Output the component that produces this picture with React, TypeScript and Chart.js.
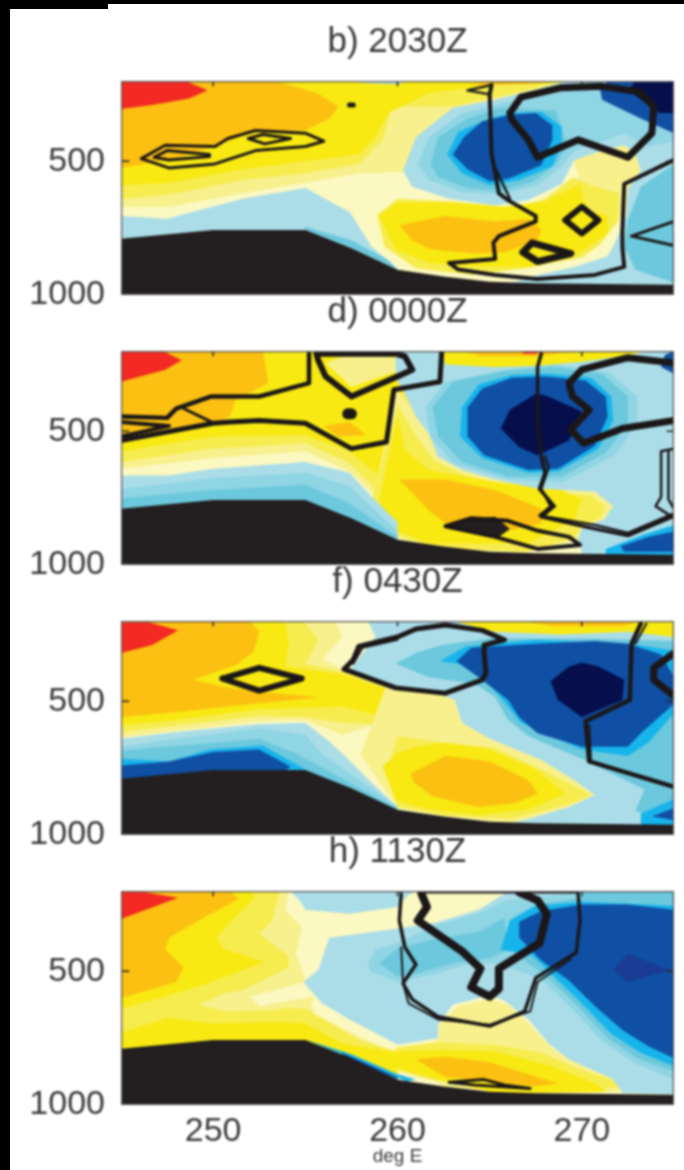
import React, { useEffect, useRef } from "react";
import { Chart, registerables } from "chart.js";
Chart.register(...registerables);

type P = [number, number];
const RED = "#f32a23", ORG = "#fbc011", YEL = "#f8e912", Y2 = "#f6ec4e", Y3 = "#f8f08c", Y4 = "#fbf8c2";
const LB = "#abdde8", LB2 = "#8fd5e3", LB3 = "#6cc8dc", CYN = "#17b4ec", BLU = "#0f50a4", NVY = "#060f4c", KK = "#231f20", IND = "#1a3c94";

const xTicks = [250, 260, 270];
const yTicks = [500, 1000];
const titles = ["b) 2030Z", "d) 0000Z", "f) 0430Z", "h) 1130Z"];

const full: P[] = [[245, 200], [275, 200], [275, 1000], [245, 1000]];
const frame: P[] = [[245, 200], [275, 200], [275, 1000], [245, 1000], [245, 200]];
const terrain: P[] = [[245, 790], [250, 757], [255, 757], [257.5, 825], [260, 906], [262.5, 931], [265, 950], [267.5, 956], [275, 962], [275, 1000], [245, 1000]];
const tickMarks: P[][] = [[[250, 200], [250, 220]], [[260, 200], [260, 220]], [[270, 200], [270, 220]], [[245, 500], [245.45, 500]], [[275, 500], [274.6, 500]]];

// panel b
const bY3: P[] = [[245, 200], [270, 200], [270, 500], [260, 540], [257.9, 545], [255, 580], [251.6, 620], [247.6, 670], [245, 670]];
const bY2: P[] = [[245, 200], [269.3, 200], [263, 295], [259.7, 295], [259.2, 420], [257.9, 510], [255, 545], [251.6, 570], [247.6, 625], [245, 640]];
const bY: P[] = [[245, 200], [267.1, 200], [265.1, 215], [261.7, 245], [259.5, 320], [258.8, 410], [257.9, 475], [255, 500], [251.6, 530], [247.6, 580], [245, 590]];
const bOrg: P[] = [[245, 200], [253.4, 200], [255.6, 245], [256.8, 295], [256.3, 340], [255, 385], [252.1, 390], [250.1, 445], [248.9, 470], [248, 490], [245, 525]];
const bOrgTop: P[] = [[263.8, 215], [265.3, 200], [268.9, 200], [267.5, 210], [265.3, 215]];
const bRed: P[] = [[245, 200], [248.5, 200], [249.7, 235], [248.7, 265], [246.7, 290], [245, 305]];
const bSliver: P[] = [[257, 200], [260.5, 200], [260, 212], [258.5, 208]];
const bLow: P[] = [[245, 705], [247.5, 715], [251.6, 640], [255, 600], [257.4, 690], [258.6, 820], [260, 900], [260, 1000], [245, 1000]];
const bLowEdge: P[] = [[255, 745], [257.5, 795], [259.5, 870], [260, 905], [257.5, 825], [255, 757]];
const bPatch: P[] = [[269.6, 495], [271.1, 460], [272.3, 440], [272.9, 470], [273.2, 535], [272.5, 605], [272.4, 705], [271.6, 700], [270.2, 680], [269.9, 585]];
const bLowY2: P[] = [[258.9, 700], [260, 640], [263, 650], [266, 680], [268, 640], [269.5, 560], [270.5, 590], [272, 620], [272, 720], [271, 810], [270, 860], [267, 900], [264, 925], [261, 900], [259.3, 820]];
const bLowY: P[] = [[259, 705], [260, 655], [263.5, 655], [265.8, 670], [268, 650], [269.9, 585], [270.2, 680], [271.4, 705], [271.4, 770], [269.6, 855], [267.1, 895], [264.4, 895], [261.7, 880], [259.9, 830]];
const bLowOrg: P[] = [[260.1, 740], [262.6, 705], [265.3, 725], [267.1, 715], [267.8, 755], [267.6, 795], [265.8, 840], [264.2, 845], [261.8, 830], [260.8, 795]];
const bRight: P[] = [[269.3, 200], [265.3, 270], [263, 300], [261, 410], [260.3, 535], [260.8, 595], [262.8, 640], [265.3, 665], [267.1, 645], [268.9, 585], [269.6, 495], [271.1, 460], [272.3, 440], [272.9, 470], [273.2, 535], [272.5, 605], [272.4, 705], [271.8, 805], [271.4, 855], [269.6, 895], [267.6, 925], [266.2, 955], [275, 1000], [275, 200]];
const bMid: P[] = [[265.8, 280], [263.5, 320], [261.7, 410], [261.1, 510], [261.7, 570], [263.5, 615], [265.6, 625], [267.6, 590], [268.9, 520], [269.6, 460], [271.1, 425], [272.3, 395], [273.6, 445], [275, 425], [275, 200], [270.5, 200], [269, 240]];
const bMid2: P[] = [[265.6, 300], [263.8, 340], [262.2, 410], [261.8, 510], [262.2, 560], [263.8, 600], [265.6, 610], [267.4, 575], [268.6, 510], [269.2, 440], [268.6, 310]];
const bMidR: P[] = [[275, 510], [273.2, 595], [272.5, 720], [272.3, 820], [272.9, 905], [275, 955]];
const bCyan: P[] = [[265, 340], [263.3, 390], [262.7, 475], [263.5, 545], [265, 590], [266.6, 570], [268.4, 520], [268.9, 435], [268.9, 370], [267.8, 315], [266.2, 320]];
const bBlue: P[] = [[264.6, 350], [263.6, 410], [263, 475], [263.8, 530], [265, 575], [266, 565], [267.8, 515], [268.4, 420], [268.4, 365], [267.5, 320], [266.2, 325]];
const bTopBlue: P[] = [[271, 235], [271.1, 270], [273.2, 340], [275, 395], [275, 200], [271.4, 200]];
const bNavy: P[] = [[272.5, 235], [274.2, 320], [275, 320], [275, 200], [272.9, 200]];
const bC1: P[] = [[246.1, 490], [247.4, 440], [250.1, 445], [250.8, 415], [252.3, 385], [255, 395], [256, 425], [255, 445], [252.3, 460], [250.1, 510], [247.6, 525], [246.1, 490]];
const bC2: P[] = [[246.8, 485], [247.5, 460], [249.8, 475], [249.8, 482], [247.6, 495], [246.8, 485]];
const bC3: P[] = [[251.9, 415], [252.7, 400], [254.2, 415], [252.8, 435], [251.9, 415]];
const bDot: P[] = [[257.4, 290], [257.6, 290]];
const bThick: P[] = [[266.1, 320], [266.2, 345], [267.1, 420], [267.6, 485], [269.8, 420], [272.5, 485], [273.8, 395], [273.9, 295], [273.1, 240], [271.1, 220], [268.9, 225], [266.7, 260], [266.1, 320]];
const bLong: P[] = [[265.1, 215], [265, 250], [265.1, 470], [265.5, 620], [266.1, 650], [267.5, 705], [267.5, 725], [265.5, 780], [265.2, 805], [265.3, 865], [262.8, 880], [263.3, 905], [265.3, 925], [267.6, 940], [270.7, 925], [272.3, 895], [272.2, 820], [272.2, 760], [272.3, 585], [275, 495]];
const bLong2: P[] = [[265.2, 510], [266.1, 640]];
const bTri: P[] = [[265.1, 215], [263.8, 235], [265, 250]];
const bNotch: P[] = [[275, 725], [272.7, 780], [275, 815]];
const bDiamond: P[] = [[269.1, 720], [270, 670], [270.9, 720], [270, 770], [269.1, 720]];
const bBlob: P[] = [[266.8, 840], [267.3, 805], [269.4, 845], [267.6, 875], [266.8, 840]];

// panel d
const dY3: P[] = [[245, 200], [262, 200], [262, 860], [260, 820], [257.4, 650], [255, 575], [250, 600], [245, 640]];
const dY2: P[] = [[245, 200], [262, 200], [260.5, 400], [260, 795], [257.4, 620], [255, 545], [250, 565], [245, 615]];
const dY: P[] = [[245, 200], [261, 200], [260.5, 300], [260, 445], [260, 755], [258.8, 655], [257.4, 575], [255, 515], [250, 520], [245, 575]];
const dPale: P[] = [[256.1, 245], [257.5, 335], [260, 275], [260, 225], [257.4, 210]];
const dOrg: P[] = [[245, 200], [252.7, 200], [253, 320], [251.2, 385], [250.9, 445], [250.1, 475], [245, 530]];
const dRed: P[] = [[245, 200], [247.4, 205], [248.3, 235], [247.4, 270], [245, 315]];
const dWedge: P[] = [[256, 480], [257.4, 465], [258.3, 515], [256.8, 520]];
const dMidY3: P[] = [[260, 340], [261, 445], [261.7, 510], [262.2, 595], [263.5, 645], [265.3, 680], [267.6, 715], [270.7, 725], [271.7, 780], [271.2, 830], [270, 860], [269.8, 905], [267, 955], [262, 940], [259.5, 890], [258.6, 760]];
const dMidY2: P[] = [[260, 400], [261, 520], [262, 610], [263.5, 660], [265.3, 695], [267.6, 725], [270.5, 740], [271.3, 780], [271, 825], [270, 850], [269.6, 900], [267, 950], [262, 935], [259.5, 880], [258.6, 760]];
const dMidY: P[] = [[260, 445], [260.4, 570], [261.7, 645], [265.3, 690], [268.9, 720], [270, 755], [269.6, 830], [267.1, 920], [261.7, 920], [259.9, 870], [259, 760]];
const dLowOrg: P[] = [[260.1, 680], [262.6, 680], [265.3, 720], [267.8, 790], [267.8, 845], [266.2, 870], [264.4, 820], [262.6, 845], [261.7, 795], [260.8, 730]];
const dTopY: P[] = [[262, 200], [273.5, 200], [270, 250], [265, 270], [262.3, 260]];
const dTopOrg: P[] = [[263.5, 200], [264.6, 220], [267.5, 220], [270, 200]];
const dTopRed: P[] = [[266.6, 200], [267.8, 200], [267.5, 210], [266.9, 210]];
const dLowLB: P[] = [[245, 665], [247.6, 665], [250, 640], [255, 615], [257.4, 655], [258.6, 745], [260, 840], [260, 1000], [245, 1000]];
const dLowLB2: P[] = [[245, 715], [247.6, 695], [250, 675], [255, 655], [257.4, 705], [260, 875], [260, 1000], [245, 1000]];
const dLowLB3: P[] = [[245, 750], [250, 720], [255, 700], [257.4, 770], [260, 895], [260, 1000], [245, 1000]];
const dRight: P[] = [[259.9, 215], [260, 200], [262.4, 200], [262.6, 250], [265.3, 260], [267.6, 255], [270, 240], [273.1, 210], [273.5, 200], [275, 200], [275, 1000], [270, 1000], [270, 955], [269.8, 905], [270, 860], [271.2, 830], [271.7, 780], [270.7, 725], [267.6, 715], [265.3, 680], [263.5, 645], [262.2, 595], [261.7, 510], [261, 445], [260.4, 360], [259.9, 300]];
const dRing: P[] = [[265.8, 270], [262.6, 315], [261.5, 410], [261.8, 520], [263, 620], [266, 680], [269, 690], [271.8, 590], [273, 470], [273, 370], [271.5, 280], [268.5, 250]];
const dMid: P[] = [[265.8, 275], [263, 315], [261.9, 410], [262.2, 520], [263.5, 615], [266, 670], [268.9, 670], [271.3, 580], [272.5, 470], [272.5, 370], [271.1, 285], [268.5, 260]];
const dCyan: P[] = [[266.2, 290], [264.4, 325], [263.5, 410], [263.4, 520], [264.6, 600], [267.1, 655], [268.7, 650], [270.9, 565], [271.7, 460], [271.6, 370], [270.5, 300], [268.2, 285]];
const dBlue: P[] = [[266.2, 300], [264.6, 340], [263.8, 410], [263.8, 520], [264.7, 590], [267.1, 645], [268.7, 640], [270.7, 555], [271.4, 445], [271.3, 370], [270.2, 310], [268, 295]];
const dNavy: P[] = [[267.5, 360], [266.1, 420], [265.6, 490], [266.6, 560], [267.6, 590], [269.3, 535], [270, 425], [268, 365]];
const dCorner: P[] = [[274.3, 260], [275, 285], [275, 200], [274.5, 215]];
const dBotCyan: P[] = [[271.3, 940], [273.4, 885], [275, 850], [275, 965], [271.3, 965]];
const dBotBlue: P[] = [[272.1, 930], [273.6, 895], [275, 875], [275, 950], [272.3, 950]];
const dC1: P[] = [[245, 445], [247.5, 450], [248, 415], [249.9, 370], [252.5, 370], [255.2, 320], [255.2, 210]];
const dC2: P[] = [[255.7, 235], [256.1, 295], [257.5, 370], [260, 295], [260.8, 270], [260.4, 220], [259.9, 210], [255.6, 210], [255.7, 235]];
const dC3: P[] = [[245, 535], [250, 470], [250.9, 465], [252.5, 460], [255, 470], [257.5, 565], [259.4, 540], [259.8, 345], [262.3, 315], [262.4, 200]];
const dC4: P[] = [[248.4, 415], [249.9, 465]];
const dC5: P[] = [[245, 465], [247.6, 480], [245, 520]];
const dStar: P[] = [[257.3, 435], [257.5, 435]];
const dLong: P[] = [[267.8, 210], [267.6, 260], [267.6, 470], [267.8, 595], [268, 655], [267.7, 715], [268.5, 780], [267.8, 820], [270.7, 865], [272.5, 890], [274.9, 820], [275, 810]];
const dLong2: P[] = [[268, 595], [268.2, 635], [267.8, 715], [268.3, 780], [267.7, 815], [270.7, 850], [272.5, 880], [274.9, 810]];
const dEdge: P[] = [[275, 565], [274.3, 575], [274.3, 745], [274, 780], [274.9, 820]];
const dEdge2: P[] = [[274.7, 570], [274.7, 755], [275, 790]];
const dLoop: P[] = [[275, 245], [272.5, 225], [270, 270], [269.3, 320], [269.5, 370], [270.4, 420], [269.4, 495], [270.1, 545], [272.2, 490], [275, 460]];
const dBlack: P[] = [[262.6, 855], [264, 825], [265.3, 820], [266.1, 865], [265.5, 895], [263.7, 870]];
const dBlobLine: P[] = [[262.6, 855], [264, 825], [266, 835], [267.5, 870], [269.3, 895], [269.9, 925], [267.6, 940], [265.3, 895], [262.6, 855]];

// panel f
const fY3: P[] = [[245, 200], [256.6, 200], [257, 260], [255.9, 345], [257.4, 390], [260, 420], [260, 560], [257, 625], [255, 570], [252.5, 575], [248, 610], [245, 635]];
const fY2: P[] = [[245, 200], [254.9, 200], [255.7, 270], [255, 360], [257, 390], [260, 430], [260, 590], [257, 580], [255, 560], [252.5, 555], [248, 590], [245, 615]];
const fY: P[] = [[245, 200], [253.9, 200], [254.1, 285], [253.9, 370], [257, 400], [260, 470], [261, 530], [260, 570], [257, 520], [252.5, 530], [248, 570], [245, 590]];
const fOrg: P[] = [[245, 200], [252, 200], [252.5, 240], [252.2, 315], [251.2, 365], [248.9, 420], [250.5, 445], [252.5, 465], [255.8, 485], [252.1, 510], [248, 540], [245, 560]];
const fRed: P[] = [[245, 205], [246.5, 205], [248.1, 235], [246.7, 290], [245, 320]];
const fLowPale: P[] = [[259.5, 420], [262.2, 470], [263.1, 495], [263.5, 580], [265, 640], [267.8, 720], [269.6, 795], [270.7, 850], [269.3, 895], [266, 960], [260, 900], [258, 700]];
const fLowY2: P[] = [[259.5, 745], [260, 630], [262.6, 655], [265.3, 675], [267.8, 755], [270.5, 850], [269.3, 885], [266.2, 940], [262.6, 930], [260, 895]];
const fLowY: P[] = [[259.2, 745], [260, 695], [261, 670], [262.6, 655], [265, 680], [267.5, 755], [269.1, 845], [267.1, 905], [264.4, 925], [261.7, 905], [259.9, 870]];
const fLowOrg: P[] = [[260.7, 770], [262.6, 705], [265, 725], [267.1, 795], [267.6, 845], [266.4, 880], [264.4, 895], [261.9, 855], [260.9, 805]];
const fTopY: P[] = [[262, 200], [275, 200], [275, 265], [268.9, 255], [265.3, 245]];
const fTopOrg: P[] = [[266.7, 200], [268.5, 220], [272.2, 220], [273.3, 200]];
const fLowLB: P[] = [[245, 640], [248, 615], [252.5, 585], [255, 580], [256.3, 650], [257, 695], [258.6, 805], [260, 895], [260, 1000], [245, 1000]];
const fLowLB2: P[] = [[245, 670], [248, 640], [252.5, 600], [255, 625], [255.9, 695], [260, 895], [260, 1000], [245, 1000]];
const fLowLB3: P[] = [[245, 685], [252.5, 640], [254.5, 695], [257.4, 805], [260, 900], [260, 1000], [245, 1000]];
const fLowCyan: P[] = [[245, 715], [247.6, 725], [249.8, 680], [252.7, 665], [255, 755], [245, 800]];
const fLowBlue: P[] = [[245, 740], [247.6, 725], [250, 690], [252.5, 680], [254.2, 745], [253.9, 760], [245, 800]];
const fMain: P[] = [[258.4, 200], [263, 200], [265.3, 240], [268.9, 250], [272.5, 240], [275, 260], [275, 1000], [266, 1000], [266.2, 955], [267.1, 940], [269.3, 895], [270.7, 850], [269.6, 795], [267.8, 720], [265, 640], [263.5, 580], [263.1, 495], [262.2, 470], [259.9, 450], [257.4, 385], [258.8, 260]];
const fMid: P[] = [[275, 275], [270.7, 265], [265, 265], [262.4, 290], [261, 320], [259.9, 360], [261.7, 410], [264.2, 435], [265.3, 485], [266, 570], [267.1, 630], [270, 715], [273.4, 830], [272.9, 910], [275, 955]];
const fCyan: P[] = [[262.3, 350], [263.7, 295], [267.5, 270], [272.5, 285], [275, 310], [275, 545], [273.6, 655], [272.5, 705], [270, 680], [266.7, 580], [265.6, 485], [264.7, 420], [263.3, 360]];
const fBlue: P[] = [[263.2, 350], [264, 300], [267.5, 285], [270.7, 275], [272.5, 285], [274.3, 325], [275, 410], [275, 510], [273.2, 620], [272.5, 670], [270, 670], [267.6, 620], [266.6, 560], [266, 495], [264.4, 410]];
const fNavy: P[] = [[269.3, 370], [268.3, 425], [268.7, 495], [270, 560], [272.2, 495], [272.3, 420], [270.9, 370], [270, 355]];
const fBotCyan: P[] = [[273.2, 920], [274, 895], [275, 865], [275, 965], [273.2, 965]];
const fBotBlue: P[] = [[273.8, 930], [275, 900], [275, 945]];
const fDiamond: P[] = [[250.5, 415], [252.5, 375], [254.8, 415], [252.5, 460], [250.5, 415]];
const fLoop: P[] = [[257.1, 380], [257.6, 345], [257.9, 295], [260, 260], [261, 230], [262.6, 215], [264.6, 235], [265.8, 270], [264.7, 290], [264.7, 320], [264.8, 395], [264.6, 420], [262.6, 470], [259.9, 450], [257.1, 380]];
const fLoop2: P[] = [[257.6, 360], [258.1, 300], [260, 270]];
const fLong: P[] = [[273.2, 210], [272.7, 285], [272.6, 495], [270.2, 575], [270.4, 725], [275, 820]];
const fLong2: P[] = [[273.5, 210], [272.9, 285]];
const fLong3: P[] = [[270.5, 725], [270.4, 590]];
const fRing: P[] = [[275, 320], [273.9, 375], [273.9, 420], [275, 480]];

// panel h
const hY3: P[] = [[245, 200], [254.1, 200], [253.9, 270], [254.8, 335], [254.5, 435], [255, 535], [255.5, 660], [257.5, 730], [260, 810], [260, 900], [245, 900]];
const hY2: P[] = [[245, 200], [253.6, 200], [253.2, 310], [252.5, 360], [254.1, 445], [254.1, 485], [251.6, 570], [249.2, 620], [255, 640], [258, 760], [260, 800], [260, 900], [245, 900]];
const hPatch3: P[] = [[249.2, 625], [250.7, 580], [255, 535], [255.5, 610], [253.4, 645], [250.7, 650]];
const hPatch4: P[] = [[252, 595], [255, 540], [255.4, 595], [252.5, 630]];
const hY: P[] = [[245, 200], [252, 200], [252.3, 220], [250.2, 370], [250.5, 415], [252.8, 465], [249.7, 545], [247.6, 590], [245, 640]];
const hYLow: P[] = [[245, 730], [247.5, 675], [250.1, 695], [253.4, 690], [255, 695], [257, 770], [260, 805], [260, 920], [245, 920]];
const hOrg: P[] = [[245, 200], [250.9, 200], [251.4, 230], [249.6, 295], [247.6, 375], [247.4, 420], [248.4, 485], [248, 540], [245, 600]];
const hRed: P[] = [[245, 200], [246.3, 205], [248.1, 225], [245, 305]];
const hTopLB: P[] = [[254.2, 200], [254.8, 245], [255, 270], [257.4, 285], [260, 260], [260.6, 215], [261, 200]];
const hMain: P[] = [[265.8, 200], [265.8, 210], [264.4, 270], [262, 320], [260, 340], [256.3, 375], [255.7, 495], [254.9, 540], [255.9, 620], [257.4, 680], [260, 775], [262.2, 750], [262.2, 700], [263, 625], [265, 590], [265.8, 610], [267.1, 680], [268.2, 770], [269.3, 830], [271.4, 895], [272.2, 955], [275, 960], [275, 200]];
const hLowY3: P[] = [[262.2, 755], [262.3, 695], [263.3, 630], [265, 605], [266, 625], [267.1, 695], [268.4, 790], [269.4, 835], [271.6, 900], [272.2, 950], [267.6, 960], [262.6, 935], [259.9, 815]];
const hLowY2: P[] = [[259.9, 785], [262.2, 765], [265.3, 775], [267.8, 805], [270, 870], [271.6, 905], [272, 935], [267, 960], [261.7, 905], [259.9, 870]];
const hLowY: P[] = [[259.9, 800], [262.2, 795], [265.3, 800], [268.4, 855], [270.7, 920], [271.4, 950], [265.3, 955], [261.7, 895], [259.9, 860]];
const hLowOrg: P[] = [[261, 830], [262.6, 820], [265, 840], [268.7, 920], [267.5, 930], [262.6, 895]];
const hMid: P[] = [[260, 395], [262, 330], [264.5, 280], [265.9, 235], [268, 220], [270, 205], [272, 200], [275, 200], [275, 905], [272.9, 845], [271.1, 760], [269.3, 630], [267.8, 530], [265.5, 470], [264, 470], [262, 510], [260, 540], [258.5, 500], [258.4, 470], [258.8, 420]];
const hInner: P[] = [[259, 470], [260, 415], [262, 380], [264.5, 350], [265.8, 300], [266, 420], [265, 450], [263, 470], [261, 510], [260, 520]];
const hBand: P[] = [[266, 310], [267.5, 250], [270, 225], [275, 225], [275, 875], [273, 825], [271.4, 750], [269.7, 625], [268.2, 525], [266.5, 440]];
const hTopStrip: P[] = [[270, 200], [275, 200], [275, 250], [270, 235]];
const hCyan: P[] = [[267.5, 255], [270, 240], [275, 255], [275, 855], [273.2, 805], [271.6, 735], [270, 620], [268.5, 520], [267.3, 440], [265.6, 420], [266.1, 310]];
const hBlue: P[] = [[266.6, 315], [267.8, 275], [270, 250], [272.5, 250], [275, 270], [275, 825], [273.6, 780], [272.2, 720], [270.7, 630], [269.3, 535], [267.8, 460], [266.6, 375]];
const hIndigo: P[] = [[271.7, 495], [272.5, 435], [274.8, 495], [272.5, 540]];
const hStrip: P[] = [[255, 755], [257.5, 810], [260, 885], [261, 905], [260.5, 912], [257.5, 825]];
const hStrip2: P[] = [[257, 805], [258.5, 850], [260, 897], [260, 905], [258.5, 862], [257, 815]];
const hOuter: P[] = [[260.2, 210], [260.1, 310], [260.4, 410], [261, 475], [260.3, 545], [260.8, 605], [262.2, 670], [265, 705], [266.9, 650], [267.5, 525], [269.7, 430], [269.9, 310], [269.8, 210]];
const hOuter2: P[] = [[260.2, 410], [260.3, 545], [260.6, 620], [262.2, 680], [265, 700], [267.2, 650], [267.6, 540], [269.4, 455]];
const hThick: P[] = [[261.3, 210], [261.6, 260], [261.1, 310], [263.5, 425], [264.5, 490], [264, 560], [265, 595], [265.5, 565], [265.5, 490], [267.7, 395], [268.1, 285], [267.6, 235], [266.6, 205]];
const hTopEdge: P[] = [[261.3, 204], [269.8, 204]];
const hBot: P[] = [[262.8, 915], [264.7, 905], [265.8, 925], [267.2, 938], [264.2, 925], [262.8, 915]];

type Layer = [P[], string];
type Line = [P[], number];
const panels: { layers: Layer[]; lines: Line[] }[] = [
  {
    layers: [[full, Y4], [bY3, Y3], [bY2, Y2], [bY, YEL], [bOrg, ORG], [bOrgTop, ORG], [bRed, RED], [bSliver, LB], [bLow, LB], [bLowEdge, LB3], [bPatch, Y3], [bLowY2, Y2], [bLowY, YEL], [bLowOrg, ORG], [bRight, LB], [bMid, LB2], [bMid2, LB3], [bMidR, LB3], [bCyan, CYN], [bBlue, BLU], [bTopBlue, BLU], [bNavy, NVY], [terrain, KK]],
    lines: [[bC1, 3], [bC2, 3], [bC3, 3], [bDot, 5], [bThick, 7], [bLong, 4], [bLong2, 2.5], [bTri, 2.5], [bNotch, 3], [bDiamond, 6], [bBlob, 7]],
  },
  {
    layers: [[full, Y4], [dY3, Y3], [dY2, Y2], [dY, YEL], [dPale, Y3], [dOrg, ORG], [dRed, RED], [dWedge, ORG], [dMidY3, Y3], [dMidY2, Y2], [dMidY, YEL], [dLowOrg, ORG], [dTopY, YEL], [dTopOrg, ORG], [dTopRed, RED], [dLowLB, LB], [dLowLB2, LB2], [dLowLB3, LB3], [dRight, LB], [dRing, LB2], [dMid, LB3], [dCyan, CYN], [dBlue, BLU], [dNavy, NVY], [dCorner, BLU], [dBotCyan, CYN], [dBotBlue, BLU], [terrain, KK], [dBlack, KK]],
    lines: [[dC1, 4.5], [dC2, 6], [dC3, 5], [dC4, 3], [dC5, 4], [dStar, 11], [dLong, 3.5], [dLong2, 2.5], [dEdge, 2.5], [dEdge2, 2.5], [dLoop, 7], [dBlobLine, 4]],
  },
  {
    layers: [[full, Y4], [fY3, Y3], [fY2, Y2], [fY, YEL], [fOrg, ORG], [fRed, RED], [fLowPale, Y3], [fLowY2, Y2], [fLowY, YEL], [fLowOrg, ORG], [fTopY, YEL], [fTopOrg, ORG], [fLowLB, LB], [fLowLB2, LB2], [fLowLB3, LB3], [fLowCyan, CYN], [fLowBlue, BLU], [fMain, LB], [fMid, LB3], [fCyan, CYN], [fBlue, BLU], [fNavy, NVY], [fBotCyan, CYN], [fBotBlue, BLU], [terrain, KK]],
    lines: [[fDiamond, 6], [fLoop, 5], [fLoop2, 2], [fLong, 4.5], [fLong2, 2], [fLong3, 2], [fRing, 7]],
  },
  {
    layers: [[full, Y4], [hY3, Y3], [hY2, Y2], [hPatch3, Y3], [hPatch4, Y4], [hYLow, YEL], [hY, YEL], [hOrg, ORG], [hRed, RED], [hTopLB, LB], [hMain, LB], [hLowY3, Y3], [hLowY2, Y2], [hLowY, YEL], [hLowOrg, ORG], [hMid, LB2], [hInner, LB3], [hBand, LB3], [hTopStrip, LB3], [hCyan, CYN], [hBlue, BLU], [hIndigo, IND], [hStrip, CYN], [hStrip2, BLU], [terrain, KK]],
    lines: [[hOuter, 3.5], [hOuter2, 2], [hThick, 8], [hTopEdge, 3], [hBot, 3]],
  },
];

const PANEL_TOPS = [81, 351, 621, 891];
const ABOVE = 60;

function Panel({ index }: { index: number }) {
  const ref = useRef<HTMLCanvasElement>(null);
  const last = index === panels.length - 1;
  const height = last ? 1170 - (PANEL_TOPS[index] - ABOVE) : 320;
  useEffect(() => {
    const pts = (a: P[]) => a.map(([x, y]) => ({ x, y }));
    const { layers, lines } = panels[index];
    const ds: any[] = [
      ...layers.map(([a, c]) => ({ data: pts(a), showLine: true, pointRadius: 0, borderWidth: 0, borderColor: c, backgroundColor: c, fill: "shape", tension: 0 })),
      ...lines.map(([a, w]) => ({ data: pts(a), showLine: true, pointRadius: 0, borderWidth: w, borderColor: "#1b1718", fill: false, tension: 0, borderJoinStyle: "round", borderCapStyle: "round" })),
      ...tickMarks.map((a) => ({ data: pts(a), showLine: true, pointRadius: 0, borderWidth: 1.5, borderColor: "#222", fill: false, tension: 0 })),
      { data: pts(frame), showLine: true, pointRadius: 0, borderWidth: 2.5, borderColor: "#555", fill: false, tension: 0 },
    ];
    ds.forEach((d, i) => { d.order = ds.length - i; });
    const chart = new Chart(ref.current!, {
      type: "scatter",
      data: { datasets: ds },
      options: {
        animation: false,
        responsive: false,
        layout: { padding: { left: 0, right: 10, top: 0, bottom: 0 } },
        plugins: {
          legend: { display: false },
          tooltip: { enabled: false },
          title: {
            display: true,
            text: titles[index],
            fullSize: false,
            color: "#3a3a3a",
            font: { family: "Liberation Sans", size: 35, weight: "normal", lineHeight: 1 },
            padding: { top: 4, bottom: 21 },
          },
        },
        scales: {
          x: {
            type: "linear",
            min: 245,
            max: 275,
            afterBuildTicks: (s: any) => { s.ticks = xTicks.map((value) => ({ value })); },
            afterFit: (s: any) => { s.height = height - ABOVE - 214; },
            grid: { display: false, drawTicks: false },
            border: { display: false },
            ticks: {
              display: last,
              padding: 6,
              maxRotation: 0,
              color: "#3a3a3a",
              callback: (v: number) => String(v),
              font: { family: "Liberation Sans", size: 34 },
            },
            title: {
              display: last,
              text: "deg E",
              color: "#3a3a3a",
              font: { family: "Liberation Sans", size: 19 },
              padding: { top: 0, bottom: 2 },
            },
          },
          y: {
            type: "linear",
            reverse: true,
            min: 200,
            max: 1000,
            afterBuildTicks: (s: any) => { s.ticks = yTicks.map((value) => ({ value })); },
            afterFit: (s: any) => { s.width = 121; },
            grid: { display: false, drawTicks: false },
            border: { display: false },
            ticks: {
              padding: 16,
              color: "#3a3a3a",
              callback: (v: number) => String(v),
              font: { family: "Liberation Sans", size: 34 },
            },
          },
        },
      } as any,
    });
    return () => chart.destroy();
  }, [index, height, last]);
  return (
    <canvas
      ref={ref}
      width={684}
      height={height}
      style={{ position: "absolute", left: 0, top: PANEL_TOPS[index] - ABOVE, width: 684, height, filter: "blur(0.8px)" }}
    />
  );
}

export default function App() {
  return (
    <div style={{ position: "absolute", left: 0, top: 0, width: 684, height: 1170, background: "#fff", overflow: "hidden" }}>
      <div style={{ position: "absolute", left: 0, top: 0, width: 10, height: 1170, background: "#000" }} />
      <div style={{ position: "absolute", left: 0, top: 0, width: 108, height: 9, background: "#000" }} />
      <div style={{ position: "absolute", left: 0, top: 0, width: 684, height: 4, background: "#000" }} />
      {panels.map((_, i) => <Panel key={i} index={i} />)}
    </div>
  );
}
